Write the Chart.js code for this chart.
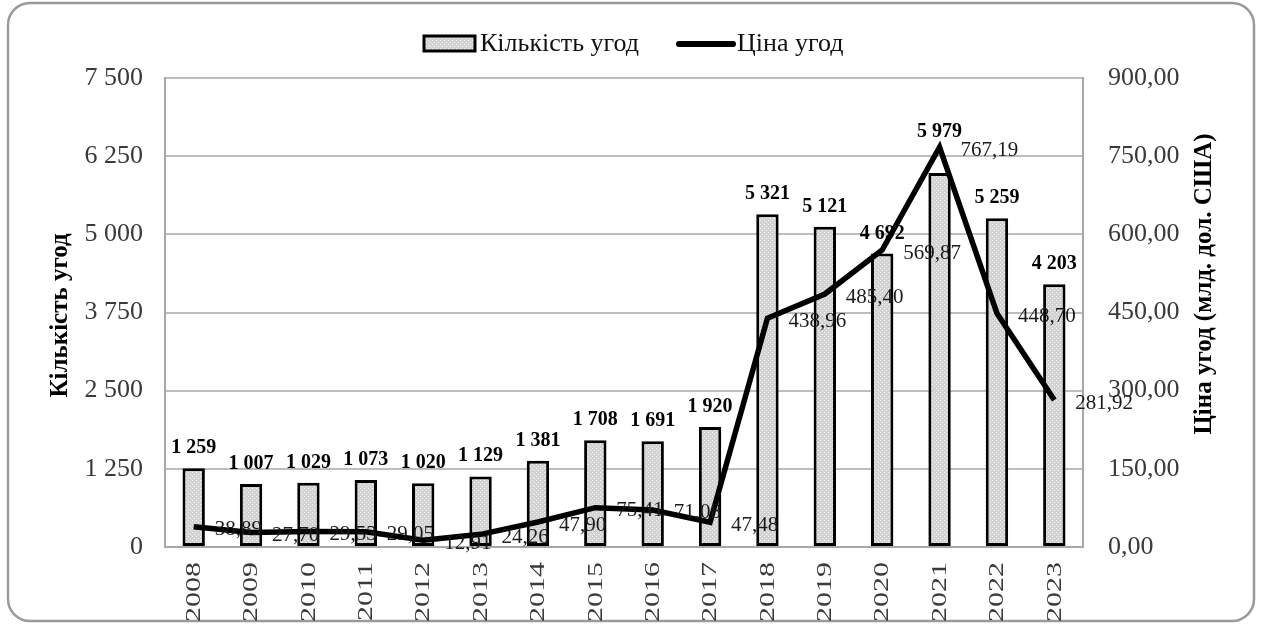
<!DOCTYPE html>
<html>
<head>
<meta charset="utf-8">
<script src="https://cdn.jsdelivr.net/npm/chart.js@4.4.0/dist/chart.umd.min.js"></script>
<style>
  html, body { margin: 0; padding: 0; background: #fff; }
  canvas { display: block; }
</style>
</head>
<body>
<canvas id="chart" width="1262" height="625"></canvas>
<script>
// years on the category axis
const years = ['2008', '2009', '2010', '2011', '2012', '2013', '2014', '2015',
               '2016', '2017', '2018', '2019', '2020', '2021', '2022', '2023'];
// number of deals (bars, left axis)
const dealCounts = [1259, 1007, 1029, 1073, 1020, 1129, 1381, 1708,
                    1691, 1920, 5321, 5121, 4692, 5979, 5259, 4203];
// deal value, bn USD (line, right axis)
const dealValues = [38.89, 27.70, 29.53, 29.05, 12.91, 24.26, 47.90, 75.41,
                    71.08, 47.48, 438.96, 485.40, 569.87, 767.19, 448.70, 281.92];
const countAxis = { min: 0, max: 7500, step: 1250 };
const valueAxis = { min: 0, max: 900, step: 150 };

const seriesNames = ['Кількість угод', 'Ціна угод'];
const leftTitle = 'Кількість угод';
const rightTitle = 'Ціна угод (млд. дол. США)';

const SERIF = '"Liberation Serif", "Times New Roman", serif';
const TICK_COLOR = '#3a3a3a';

const fmtCount = n => String(n).replace(/\B(?=(\d{3})+(?!\d))/g, ' ');
const fmtValue = v => v.toFixed(2).replace('.', ',');

const canvas = document.getElementById('chart');
const ctx = canvas.getContext('2d');

// light grey dotted fill for the bars
function dottedFill() {
  const tile = document.createElement('canvas');
  tile.width = 4; tile.height = 4;
  const g = tile.getContext('2d');
  g.fillStyle = '#d3d3d3';
  g.fillRect(0, 0, 4, 4);
  g.fillStyle = '#f4f4f4';
  g.fillRect(0, 0, 1, 1);
  g.fillRect(2, 2, 1, 1);
  return ctx.createPattern(tile, 'repeat');
}
const barFill = dottedFill();

// frame, legend, axis titles, year labels and value labels
const decorations = {
  id: 'decorations',
  beforeDraw(chart) {
    const c = chart.ctx;
    c.save();
    c.strokeStyle = '#9a9a9a';
    c.lineWidth = 2.5;
    c.beginPath();
    c.roundRect(8, 3, 1246, 618, 22);
    c.stroke();
    c.restore();
  },
  afterDraw(chart) {
    const c = chart.ctx;
    const xs = chart.scales.x;
    const area = chart.chartArea;
    const bars = chart.getDatasetMeta(0).data;
    const pts = chart.getDatasetMeta(1).data;

    c.save();

    // year labels, rotated and stretched along the text
    c.fillStyle = TICK_COLOR;
    c.font = '20px ' + SERIF;
    c.textAlign = 'right';
    c.textBaseline = 'middle';
    years.forEach((y, i) => {
      c.save();
      c.translate(xs.getPixelForTick(i) + 1, area.bottom + 15);
      c.rotate(-Math.PI / 2);
      c.scale(1.5, 1);
      c.fillText(y, 0, 0);
      c.restore();
    });

    // line values, to the right of each point
    c.fillStyle = '#1a1a1a';
    c.font = '21px ' + SERIF;
    c.textAlign = 'left';
    c.textBaseline = 'middle';
    pts.forEach((p, i) => {
      c.fillText(fmtValue(dealValues[i]), p.x + 21, p.y + 3);
    });

    // bar values, above the bar (and above the line where it crosses)
    c.fillStyle = '#000';
    c.font = 'bold 20px ' + SERIF;
    c.textAlign = 'center';
    c.textBaseline = 'alphabetic';
    bars.forEach((b, i) => {
      const yb = Math.min(b.y - 15, pts[i].y - 10);
      c.fillText(fmtCount(dealCounts[i]), b.x, yb);
    });

    // axis titles
    c.font = 'bold 25px ' + SERIF;
    c.textAlign = 'center';
    c.textBaseline = 'middle';
    c.save();
    c.translate(61, (area.top + area.bottom) / 2 + 3);
    c.rotate(-Math.PI / 2);
    c.fillText(leftTitle, 0, 0);
    c.restore();
    c.save();
    c.translate(1205, 284);
    c.rotate(-Math.PI / 2);
    c.fillText(rightTitle, 0, 0);
    c.restore();

    // legend
    c.font = '26px ' + SERIF;
    c.textAlign = 'left';
    c.textBaseline = 'middle';
    c.fillStyle = barFill;
    c.fillRect(424, 36, 51, 15);
    c.strokeStyle = '#000';
    c.lineWidth = 3;
    c.strokeRect(424, 36, 51, 15);
    c.fillStyle = '#111';
    c.fillText(chart.data.datasets[0].label, 480, 44);
    c.lineWidth = 6;
    c.lineCap = 'round';
    c.beginPath();
    c.moveTo(679, 44);
    c.lineTo(733, 44);
    c.stroke();
    c.fillText(chart.data.datasets[1].label, 737, 44);

    c.restore();
  }
};

new Chart(canvas, {
  type: 'bar',
  data: {
    labels: years,
    datasets: [
      {
        type: 'bar',
        label: seriesNames[0],
        data: dealCounts,
        yAxisID: 'y',
        backgroundColor: barFill,
        borderColor: '#000',
        borderWidth: 3,
        borderSkipped: false,
        categoryPercentage: 1,
        barPercentage: 0.39,
        order: 1
      },
      {
        type: 'line',
        label: seriesNames[1],
        data: dealValues,
        yAxisID: 'y1',
        borderColor: '#000',
        backgroundColor: '#000',
        borderWidth: 5.5,
        borderJoinStyle: 'miter',
        tension: 0,
        pointRadius: 0,
        fill: false,
        order: 0
      }
    ]
  },
  options: {
    responsive: false,
    animation: false,
    layout: { padding: { top: 78, left: 0, right: 0, bottom: 0 } },
    plugins: {
      legend: { display: false },
      tooltip: { enabled: false }
    },
    scales: {
      x: {
        grid: { display: false, drawTicks: false },
        border: { display: true, color: '#a8a8a8', width: 2 },
        ticks: { display: false },
        afterFit: s => { s.height = 78; }
      },
      y: {
        position: 'left',
        min: countAxis.min,
        max: countAxis.max,
        ticks: {
          stepSize: countAxis.step,
          padding: 22,
          color: TICK_COLOR,
          font: { family: SERIF, size: 26 },
          callback: v => fmtCount(v)
        },
        grid: { color: '#bdbdbd', lineWidth: 2, drawTicks: false },
        border: { display: true, color: '#a8a8a8', width: 2 },
        afterFit: s => { s.width = 165; }
      },
      y1: {
        position: 'right',
        min: valueAxis.min,
        max: valueAxis.max,
        ticks: {
          stepSize: valueAxis.step,
          padding: 25,
          color: TICK_COLOR,
          font: { family: SERIF, size: 26 },
          callback: v => fmtValue(v)
        },
        grid: { display: false, drawTicks: false },
        border: { display: true, color: '#a8a8a8', width: 2 },
        afterFit: s => { s.width = 179; }
      }
    }
  },
  plugins: [decorations]
});
</script>
</body>
</html>
